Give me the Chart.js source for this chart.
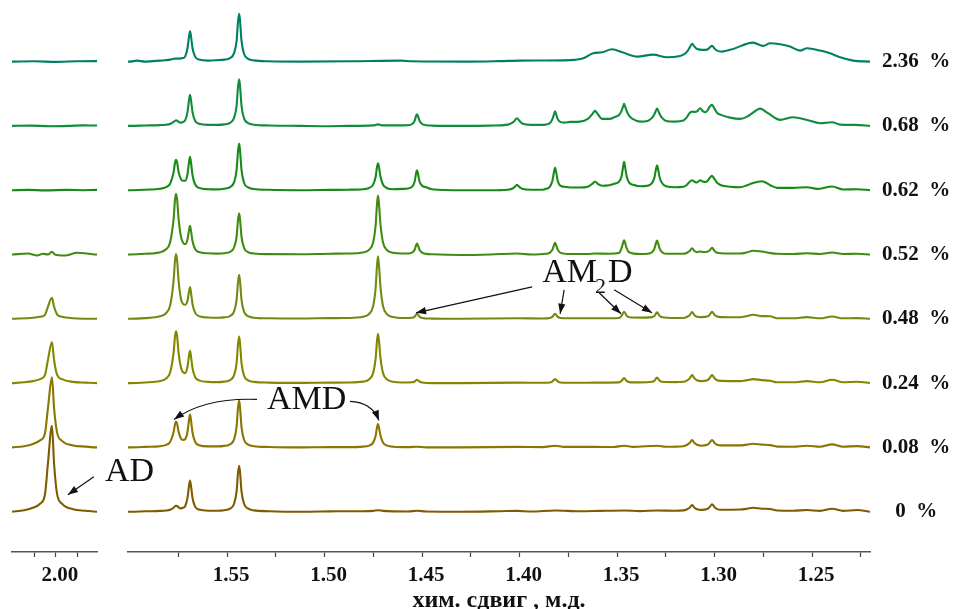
<!DOCTYPE html>
<html>
<head>
<meta charset="utf-8">
<script src="https://cdn.jsdelivr.net/npm/chart.js@4.4.1/dist/chart.umd.min.js"></script>
<style>
  html, body { margin: 0; padding: 0; background: #fff; }
  #wrap { position: relative; width: 962px; height: 609px; }
  #wrap canvas { position: absolute; top: 0; left: 0; }
</style>
</head>
<body>
<div id="wrap">
  <canvas id="main" width="962" height="609"></canvas>
  <canvas id="side" width="110" height="609"></canvas>
</div>
<script>
// концентрации снизу вверх
const concLabels = ['0  %', '0.08  %', '0.24  %', '0.48  %', '0.52  %', '0.62  %', '0.68  %', '2.36  %'];
const lineColors = ['#805c00', '#8a7600', '#828700', '#6e8c14', '#408c10', '#188a18', '#108c3c', '#008062'];
const step = 64.3; // сдвиг между спектрами

// [хим. сдвиг, интенсивность]
const spec0 = [
  [2.0207,0],[2.0150,1.5],[2.0108,4],[2.0075,8],[2.0052,17],[2.0038,48],[2.0019,86],[2.0009,48],[1.9995,18],[1.9972,8],[1.9920,2.5],[1.9860,1],[1.9807,0],
  [1.5997,0],[1.5921,0.4],[1.5844,0.8],[1.5813,1.2],[1.5792,2],[1.5774,4],[1.5767,5.5],[1.5762,6],[1.5756,5.7],[1.5749,4.3],[1.5736,3.3],[1.5726,3.9],[1.5715,5.5],[1.5703,13.8],[1.5695,26],[1.5690,31.2],[1.5685,25.9],[1.5677,13.7],[1.5664,5.1],[1.5644,2.1],[1.5597,1],[1.5546,1],
  [1.5515,1.5],[1.5485,3],[1.5464,8],[1.5451,20.5],[1.5444,38.5],[1.5438,46],[1.5433,38.5],[1.5426,20.5],[1.5413,8],[1.5392,3],[1.5362,1.3],[1.5285,0.5],
  [1.5126,0],[1.4972,0.3],[1.4879,0.5],[1.4803,0.5],[1.4751,0.8],[1.4726,1.5],[1.4700,0.8],[1.4649,0.3],[1.4572,0.2],[1.4526,1],[1.4479,0.2],
  [1.4300,0],[1.4100,0.5],[1.4013,0.8],[1.3940,0.2],[1.3818,1.2],[1.3690,0.4],[1.3587,0.8],[1.3464,1.2],[1.3382,0.6],[1.3295,1.2],[1.3203,1],
  [1.3160,1.3],[1.3141,2.5],[1.3128,4],[1.3115,6.7],[1.3103,4],[1.3090,2.5],[1.3069,1.8],[1.3038,2.6],[1.3026,4.5],[1.3013,7.3],[1.3000,4.5],[1.2987,2.6],[1.2967,2],
  [1.2869,2.2],[1.2833,3],[1.2803,4],[1.2758,3],[1.2715,2.7],[1.2679,1.2],[1.2597,1],[1.2526,1.7],[1.2459,0.8],[1.2397,3],[1.2341,0.8],[1.2269,1.7],[1.2203,0]
];
const spec008 = [
  [2.0207,0],[2.0150,1.2],[2.0108,3.5],[2.0075,7],[2.0052,14],[2.0038,39],[2.0019,70],[2.0009,39],[1.9995,15],[1.9972,6.5],[1.9920,2],[1.9860,0.8],[1.9807,0],
  [1.5997,0],[1.5921,0.5],[1.5844,1.2],[1.5813,2.5],[1.5792,5.5],[1.5774,15.3],[1.5767,23.2],[1.5762,25.8],[1.5756,23.4],[1.5749,15.9],[1.5736,8.6],[1.5726,7.5],[1.5715,8.2],[1.5703,15.4],[1.5695,27.6],[1.5690,32.8],[1.5685,27.3],[1.5677,14.6],[1.5664,5.7],[1.5644,2.2],[1.5597,1],[1.5546,1],
  [1.5515,1.5],[1.5485,3],[1.5464,8],[1.5451,21],[1.5444,39.5],[1.5438,47],[1.5433,39],[1.5426,20.5],[1.5413,7.6],[1.5392,2.8],[1.5362,1.2],[1.5285,0.4],
  [1.5126,0],[1.4972,0.3],
  [1.4879,0.3],[1.4803,0.8],[1.4772,1.8],[1.4751,4.8],[1.4738,11.7],[1.4731,20],[1.4726,23.3],[1.4721,20],[1.4713,11.7],[1.4700,4.7],[1.4679,1.8],[1.4649,0.7],[1.4572,0.3],
  [1.4526,0.7],[1.4479,0],
  [1.4300,0],[1.4013,0.5],[1.3880,0.3],[1.3818,1.7],[1.3772,0.5],[1.3613,0.5],[1.3520,0.4],[1.3464,1.7],[1.3418,0.5],[1.3295,1.7],[1.3249,0.7],
  [1.3160,1.2],[1.3141,2.6],[1.3128,4.3],[1.3115,7.3],[1.3103,4.3],[1.3090,2.6],[1.3069,1.7],[1.3038,2.6],[1.3026,4.5],[1.3013,7.3],[1.3000,4.5],[1.2987,2.6],[1.2967,2],
  [1.2869,2],[1.2833,2.8],[1.2803,3.7],[1.2758,2.8],[1.2715,2.3],[1.2679,0.8],[1.2597,0.7],[1.2526,1.7],[1.2459,0.7],[1.2397,3],[1.2341,0.7],[1.2269,1.3],[1.2203,0]
];
const spec024 = [
  [2.0207,0],[2.0150,0.8],[2.0108,2],[2.0075,4],[2.0052,8],[2.0038,23],[2.0019,41],[2.0009,23],[1.9995,8.5],[1.9972,4],[1.9920,1.2],[1.9860,0.5],[1.9807,0],
  [1.5997,0],[1.5921,0.6],[1.5844,2],[1.5813,4.5],[1.5792,10.6],[1.5774,30.7],[1.5767,46.6],[1.5762,51.8],[1.5756,46.8],[1.5749,31.2],[1.5736,15.3],[1.5726,10.8],[1.5715,10],[1.5703,16.4],[1.5695,27.5],[1.5690,32.2],[1.5685,26.8],[1.5677,14.7],[1.5664,6.1],[1.5644,2.7],[1.5597,1.2],[1.5546,1],
  [1.5515,1.5],[1.5485,3],[1.5464,8],[1.5451,20.3],[1.5444,38.7],[1.5438,46.6],[1.5433,38.7],[1.5426,20.3],[1.5413,7.5],[1.5392,2.8],[1.5362,1.2],[1.5285,0.5],
  [1.5126,0.2],[1.4972,0.5],
  [1.4879,0.6],[1.4803,1.5],[1.4772,3.7],[1.4751,10],[1.4738,24.7],[1.4731,42.4],[1.4726,49.3],[1.4721,42.4],[1.4713,24.7],[1.4700,9.9],[1.4679,3.5],[1.4649,1.4],[1.4603,0.6],
  [1.4551,0.8],[1.4538,1.6],[1.4526,3.3],[1.4513,1.6],[1.4500,0.6],[1.4449,0],
  [1.4300,0],[1.4013,0.5],[1.3880,0.3],[1.3844,0.6],[1.3831,1.8],[1.3818,4],[1.3805,1.8],[1.3792,0.6],[1.3690,0.3],[1.3613,0.5],[1.3490,0.7],[1.3477,2.2],[1.3464,5],[1.3451,2.2],[1.3438,1],[1.3382,0.7],[1.3321,1.3],[1.3308,2.5],[1.3295,5.5],[1.3282,2.5],[1.3269,1.3],[1.3203,1],
  [1.3160,1.3],[1.3141,2.8],[1.3128,4.7],[1.3115,8],[1.3103,4.7],[1.3090,2.8],[1.3069,2],[1.3038,2.8],[1.3026,4.8],[1.3013,8],[1.3000,4.8],[1.2987,2.8],[1.2967,2.2],
  [1.2869,2],[1.2833,3],[1.2803,4],[1.2758,3],[1.2715,2.3],[1.2679,0.8],[1.2597,0.8],[1.2526,2],[1.2459,0.8],[1.2397,3.3],[1.2341,0.8],[1.2269,1.3],[1.2203,0]
];
const spec048 = [
  [2.0207,0],[2.0108,1],[2.0075,2],[2.0052,4],[2.0038,12],[2.0019,21],[2.0009,12],[1.9995,4.5],[1.9972,2],[1.9920,0.6],[1.9807,0],
  [1.5997,0],[1.5921,0.7],[1.5844,2.5],[1.5813,5.6],[1.5792,13.2],[1.5774,38.4],[1.5767,58.3],[1.5762,64.8],[1.5756,58.5],[1.5749,38.9],[1.5736,19.5],[1.5726,15],[1.5715,14],[1.5703,18],[1.5695,27.3],[1.5690,31.8],[1.5685,26.5],[1.5677,14.6],[1.5664,6.2],[1.5644,2.7],[1.5597,1.3],[1.5546,1],
  [1.5515,1.4],[1.5485,2.8],[1.5464,7.4],[1.5451,19.2],[1.5444,36.5],[1.5438,44],[1.5433,36.5],[1.5426,19.2],[1.5413,7.1],[1.5392,2.6],[1.5362,1.1],[1.5285,0.5],
  [1.5126,0.3],[1.4972,0.7],
  [1.4879,0.8],[1.4803,2],[1.4772,4.8],[1.4751,12.7],[1.4738,31.2],[1.4731,53.7],[1.4726,62.4],[1.4721,53.7],[1.4713,31.2],[1.4700,12.5],[1.4679,4.5],[1.4649,1.8],[1.4603,0.8],
  [1.4551,1],[1.4538,2.2],[1.4526,5],[1.4513,2.2],[1.4500,0.8],[1.4449,0.2],
  [1.4300,0],[1.4013,0.5],[1.3880,0.3],[1.3844,0.8],[1.3831,2.2],[1.3818,5],[1.3805,2.2],[1.3792,0.8],[1.3690,0.5],[1.3613,0.5],[1.3490,0.8],[1.3477,3],[1.3464,7],[1.3451,3],[1.3438,1.5],[1.3382,1.2],[1.3321,1.7],[1.3308,3],[1.3295,6.5],[1.3282,3],[1.3269,1.5],[1.3203,0.8],
  [1.3160,0.8],[1.3141,2],[1.3128,3.5],[1.3115,6.7],[1.3103,3.5],[1.3090,2],[1.3069,1.7],[1.3038,2.2],[1.3026,3.8],[1.3013,7],[1.3000,3.8],[1.2987,2.2],[1.2967,1.7],
  [1.2869,1.5],[1.2833,2.8],[1.2803,4],[1.2758,2.7],[1.2715,2.5],[1.2679,0.6],[1.2597,0.5],[1.2526,1.7],[1.2459,0.5],[1.2397,2.3],[1.2341,0.5],[1.2269,0.7],[1.2203,0]
];
const spec052 = [
  [2.0207,0],[2.0132,1],[2.0089,-1],[2.0061,0.7],[2.0038,0],[2.0019,2.7],[2.0005,0],[1.9958,-1],[1.9901,1.7],[1.9854,1],[1.9807,0],
  [1.5997,0],[1.5921,0.7],[1.5844,2.3],[1.5813,5.2],[1.5792,12.3],[1.5774,35.9],[1.5767,54.6],[1.5762,60.7],[1.5756,54.8],[1.5749,36.4],[1.5736,17.5],[1.5726,12],[1.5715,10.2],[1.5703,15.1],[1.5695,24.6],[1.5690,28.6],[1.5685,23.9],[1.5677,13.2],[1.5664,5.6],[1.5644,2.5],[1.5597,1.2],[1.5546,0.9],
  [1.5515,1.3],[1.5485,2.6],[1.5464,7],[1.5451,18],[1.5444,34.2],[1.5438,41.2],[1.5433,34.2],[1.5426,18],[1.5413,6.7],[1.5392,2.4],[1.5362,1],[1.5285,0.4],
  [1.5126,0.3],[1.4972,0.8],
  [1.4879,1],[1.4803,2],[1.4772,4.6],[1.4751,12],[1.4738,29.5],[1.4731,50.7],[1.4726,59],[1.4721,50.7],[1.4713,29.5],[1.4700,11.8],[1.4679,4.2],[1.4649,1.8],[1.4603,1],
  [1.4572,1],[1.4551,2],[1.4538,4.8],[1.4531,9.1],[1.4526,11],[1.4521,9.1],[1.4513,4.8],[1.4500,1.8],[1.4479,0.6],[1.4449,0.2],
  [1.4300,-0.5],[1.4150,0],[1.4013,1],[1.3940,0],[1.3864,0.7],[1.3844,1.9],[1.3831,5.1],[1.3823,9.7],[1.3818,11.7],[1.3813,9.7],[1.3805,5.1],[1.3792,1.9],[1.3741,0.5],[1.3650,0.5],[1.3613,1],[1.3540,0.7],[1.3490,1.5],[1.3477,6.3],[1.3469,11.9],[1.3464,14.3],[1.3459,11.9],[1.3451,6.3],[1.3438,2.3],[1.3382,0.5],[1.3344,0.8],[1.3321,2.2],[1.3308,6.2],[1.3300,11.6],[1.3295,14],[1.3290,11.6],[1.3282,6.2],[1.3269,2.3],[1.3249,0.8],
  [1.3160,0.7],[1.3141,1.8],[1.3128,3.5],[1.3115,6.3],[1.3103,3.5],[1.3090,2.3],[1.3074,3],[1.3058,2.5],[1.3038,2.8],[1.3026,4],[1.3013,6.7],[1.3000,3.5],[1.2987,1.8],[1.2967,1.3],
  [1.2869,1],[1.2833,2.2],[1.2803,3.7],[1.2758,3],[1.2715,1.5],[1.2679,0.7],[1.2597,0.5],[1.2526,1.3],[1.2459,0.5],[1.2397,2],[1.2341,0.5],[1.2269,0.7],[1.2203,0]
];
const spec062 = [
  [2.0207,0],[2.0130,0.3],[2.0050,-0.2],[1.9950,0.3],[1.9870,0],[1.9807,0.3],
  [1.5997,0],[1.5921,0.5],[1.5844,1.4],[1.5813,3],[1.5792,6.5],[1.5774,18.1],[1.5767,27.4],[1.5762,30.5],[1.5756,27.6],[1.5749,18.6],[1.5736,11],[1.5726,9.5],[1.5715,9.5],[1.5703,16],[1.5695,28.1],[1.5690,33.3],[1.5685,27.7],[1.5677,15],[1.5664,5.9],[1.5644,2.3],[1.5597,1],[1.5546,0.8],
  [1.5515,1.5],[1.5485,3],[1.5464,8],[1.5451,20.3],[1.5444,38.7],[1.5438,46.6],[1.5433,38.7],[1.5426,20.3],[1.5413,7.5],[1.5392,2.8],[1.5362,1.2],[1.5285,0.4],
  [1.5126,0],[1.4972,0.3],
  [1.4879,0.5],[1.4803,1],[1.4772,2.2],[1.4751,5.6],[1.4738,13.5],[1.4731,23.2],[1.4726,27],[1.4721,23.2],[1.4713,13.5],[1.4700,5.4],[1.4679,2],[1.4649,1],[1.4603,1.3],
  [1.4572,1.8],[1.4551,3.6],[1.4538,8.7],[1.4531,16.6],[1.4526,20],[1.4521,16.6],[1.4513,8.7],[1.4500,4.5],[1.4479,3],[1.4449,1],
  [1.4300,0],[1.4150,0],[1.4060,0.5],[1.4039,1.5],[1.4026,3],[1.4013,5.3],[1.4000,3],[1.3987,1.5],[1.3940,0.5],[1.3880,0.5],[1.3864,1.4],[1.3844,3.6],[1.3831,10],[1.3823,18.8],[1.3818,22.7],[1.3813,18.8],[1.3805,10],[1.3792,4.5],[1.3772,3.5],[1.3741,2.7],[1.3690,2.7],[1.3650,3.5],[1.3626,6.5],[1.3613,8.7],[1.3600,6.5],[1.3577,4.5],[1.3540,5],[1.3510,6.7],[1.3490,8.5],[1.3477,14],[1.3469,23.5],[1.3464,28.3],[1.3459,23.5],[1.3451,14],[1.3438,7.5],[1.3418,5.5],[1.3382,4],[1.3344,4.5],[1.3321,7],[1.3308,13],[1.3300,21.5],[1.3295,25],[1.3290,21.5],[1.3282,13],[1.3269,7],[1.3249,4],[1.3203,3],
  [1.3160,3.5],[1.3141,5.5],[1.3128,8.5],[1.3115,10],[1.3103,8.5],[1.3090,7.7],[1.3074,10],[1.3059,8.5],[1.3046,8.3],[1.3038,9],[1.3026,12],[1.3013,14.3],[1.3000,11],[1.2987,7.5],[1.2967,5],
  [1.2921,3.5],[1.2869,3],[1.2833,5],[1.2803,7.3],[1.2758,9],[1.2715,5],[1.2679,2.3],[1.2597,2.3],[1.2526,3],[1.2474,1.3],[1.2397,3.7],[1.2341,0.7],[1.2269,1],[1.2203,0]
];
const spec068 = [
  [2.0207,0],[2.0120,0.3],[2.0030,-0.3],[1.9940,0],[1.9870,0.5],[1.9807,0.4],
  [1.5997,0],[1.5921,0.4],[1.5844,0.8],[1.5813,1.2],[1.5792,2],[1.5774,4],[1.5767,5],[1.5762,5.5],[1.5756,5.2],[1.5749,4],[1.5736,3.3],[1.5726,3.9],[1.5715,5.5],[1.5703,13.8],[1.5695,26],[1.5690,31.2],[1.5685,25.9],[1.5677,13.7],[1.5664,5.1],[1.5644,2.1],[1.5597,1],[1.5546,1],
  [1.5515,1.5],[1.5485,3],[1.5464,8],[1.5451,20.3],[1.5444,38.7],[1.5438,46.6],[1.5433,38.7],[1.5426,20.3],[1.5413,7.5],[1.5392,2.8],[1.5362,1.2],[1.5285,0.4],
  [1.5126,0],[1.4972,-0.3],[1.4879,0],[1.4751,0.5],[1.4726,1.5],[1.4700,0.5],[1.4649,0.5],
  [1.4572,0.7],[1.4551,1.9],[1.4538,5.1],[1.4531,9.7],[1.4526,11.7],[1.4521,9.7],[1.4513,5.1],[1.4500,1.9],[1.4479,0.7],[1.4449,0.3],
  [1.4300,0],[1.4150,0.3],[1.4060,1.3],[1.4039,3],[1.4026,5],[1.4013,7.7],[1.4000,5],[1.3987,2.5],[1.3940,1],[1.3880,1],[1.3864,1.5],[1.3844,3],[1.3831,7],[1.3823,12],[1.3818,14.5],[1.3813,12],[1.3805,7],[1.3792,4],[1.3772,3.3],[1.3741,4],[1.3690,4.3],[1.3650,7],[1.3626,12],[1.3613,15],[1.3600,12],[1.3577,7],[1.3540,7],[1.3510,9],[1.3490,11],[1.3477,15],[1.3469,19.5],[1.3464,22],[1.3459,19.5],[1.3451,15],[1.3438,10],[1.3418,6.7],[1.3382,4.3],[1.3344,5],[1.3321,8],[1.3308,12],[1.3300,15.5],[1.3295,17.3],[1.3290,15.5],[1.3282,12],[1.3269,8],[1.3249,5],[1.3203,4.3],
  [1.3160,5.3],[1.3141,9],[1.3128,13],[1.3115,14.3],[1.3103,14],[1.3090,14.5],[1.3074,17.7],[1.3059,14.5],[1.3046,13.7],[1.3038,15],[1.3026,19],[1.3013,21],[1.3000,17],[1.2987,13],[1.2967,11],
  [1.2921,8.3],[1.2869,7],[1.2833,9.3],[1.2803,13.3],[1.2767,17.3],[1.2726,12.7],[1.2664,6],[1.2597,8.7],[1.2526,6],[1.2459,2.7],[1.2397,3.7],[1.2356,1.3],[1.2279,1],[1.2203,0]
];
const spec236 = [
  [2.0207,0],[2.0100,0.3],[2.0000,-0.3],[1.9900,0.4],[1.9807,0.5],
  [1.5997,0],[1.5962,1],[1.5921,0],[1.5844,1],[1.5792,2],[1.5774,2.8],[1.5762,3],[1.5749,3],[1.5726,3.5],[1.5715,5],[1.5703,13.3],[1.5695,25.3],[1.5690,30.4],[1.5685,25.3],[1.5677,13.3],[1.5664,5],[1.5644,2],[1.5597,1],[1.5546,1.5],
  [1.5515,2],[1.5485,3.5],[1.5464,8.5],[1.5451,21],[1.5444,39.8],[1.5438,47.9],[1.5433,39.8],[1.5426,20.9],[1.5413,7.8],[1.5392,2.8],[1.5362,1.2],[1.5285,0.3],
  [1.5126,0],[1.4869,0.3],[1.4603,1],[1.4554,0.3],[1.4254,0],[1.4100,0.5],[1.3997,1],[1.3741,1.5],[1.3674,3.3],[1.3623,8.3],[1.3577,9.3],[1.3526,12.3],[1.3469,9],[1.3397,5],[1.3315,7],[1.3244,4.3],[1.3177,5.7],
  [1.3160,7],[1.3141,10],[1.3128,14],[1.3115,17.7],[1.3103,15],[1.3090,12.5],[1.3059,11.7],[1.3038,12],[1.3026,14],[1.3013,15.7],[1.3000,13],[1.2987,11],[1.2962,10],
  [1.2905,12.7],[1.2803,19],[1.2751,15.7],[1.2715,18.3],[1.2664,17.3],[1.2613,15],[1.2562,11],[1.2526,13.3],[1.2459,11],[1.2408,8.3],[1.2356,4.3],[1.2290,1],[1.2203,0]
];
const spectra = [spec0, spec008, spec024, spec048, spec052, spec062, spec068, spec236];

// деления оси: правая часть и вставка у 2.00 м.д.
const ticksMain = [1.575, 1.55, 1.525, 1.50, 1.475, 1.45, 1.425, 1.40, 1.375, 1.35, 1.325, 1.30, 1.275, 1.25, 1.225];
const tickTextMain = ['', '1.55', '', '1.50', '', '1.45', '', '1.40', '', '1.35', '', '1.30', '', '1.25', ''];
const ticksSide = [2.01, 2.00, 1.99];
const tickTextSide = ['', '2.00', ''];

Chart.defaults.font.family = '"Liberation Serif", "Times New Roman", serif';
Chart.defaults.color = '#111';

const tickFont = { family: '"Liberation Serif", serif', size: 21, weight: 'bold' };

function makeDatasets() {
  return spectra.map((s, i) => ({
    label: concLabels[i],
    data: s.map(p => ({ x: p[0], y: p[1] + i * step })),
    borderColor: lineColors[i],
    borderWidth: 2.1,
    pointRadius: 0,
    cubicInterpolationMode: 'monotone',
    fill: false
  }));
}

function xAxis(min, max, values, texts, withTitle) {
  return {
    type: 'linear',
    reverse: true,
    min: min,
    max: max,
    afterBuildTicks: s => { s.ticks = values.map(v => ({ value: v })); },
    afterFit: s => { s.height = 57; s.paddingLeft = 0; s.paddingRight = 0; },
    ticks: {
      autoSkip: false,
      maxRotation: 0,
      padding: 6,
      labelOffset: 4,
      font: tickFont,
      color: '#111',
      callback: (v, i) => texts[i]
    },
    grid: {
      drawOnChartArea: false,
      drawTicks: true,
      tickLength: 5,
      tickColor: '#444',
      tickWidth: 1.2
    },
    border: { display: true, color: '#555', width: 1.5 },
    title: {
      display: withTitle,
      text: 'хим. сдвиг , м.д.',
      font: { family: '"Liberation Serif", serif', size: 24, weight: 'bold', lineHeight: 1 },
      color: '#111',
      padding: { top: 0, bottom: -4 }
    }
  };
}

const yRange = { min: -40.3, max: 511.7 };

const sideChart = new Chart(document.getElementById('side'), {
  type: 'line',
  data: { datasets: makeDatasets() },
  options: {
    responsive: false,
    devicePixelRatio: 1,
    animation: false,
    events: [],
    layout: { padding: { left: 12, right: 13, top: 0, bottom: 0 } },
    plugins: { legend: { display: false }, tooltip: { enabled: false } },
    scales: {
      x: xAxis(1.9807, 2.0207, ticksSide, tickTextSide, false),
      y: { type: 'linear', display: false, min: yRange.min, max: yRange.max }
    }
  }
});

// стрелка с залитым наконечником, при наличии (cx, cy) — дуга
function arrow(ctx, x0, y0, x1, y1, cx, cy) {
  let ax = x0, ay = y0;
  ctx.beginPath();
  ctx.moveTo(x0, y0);
  if (cx !== undefined) {
    ctx.quadraticCurveTo(cx, cy, x1, y1);
    ax = cx; ay = cy;
  } else {
    ctx.lineTo(x1, y1);
  }
  ctx.stroke();
  const a = Math.atan2(y1 - ay, x1 - ax);
  const len = 10, half = 3.6;
  ctx.beginPath();
  ctx.moveTo(x1, y1);
  ctx.lineTo(x1 - len * Math.cos(a) + half * Math.sin(a), y1 - len * Math.sin(a) - half * Math.cos(a));
  ctx.lineTo(x1 - len * Math.cos(a) - half * Math.sin(a), y1 - len * Math.sin(a) + half * Math.cos(a));
  ctx.closePath();
  ctx.fill();
}

const notesPlugin = {
  id: 'notes',
  afterDatasetsDraw(chart) {
    const { ctx } = chart;
    const xs = chart.scales.x, ys = chart.scales.y;
    const at = (d, t, h) => [xs.getPixelForValue(d), ys.getPixelForValue(t * step + h)];
    ctx.save();
    ctx.fillStyle = '#111';
    ctx.strokeStyle = '#111';
    ctx.lineWidth = 1.2;
    ctx.textBaseline = 'alphabetic';
    ctx.textAlign = 'left';
    const big = '34px "Liberation Serif", serif';

    // AD — пик у 2.00 м.д.
    const ad = [sideChart.scales.x.getPixelForValue(1.9944), ys.getPixelForValue(17)];
    arrow(ctx, ad[0] + 26, ad[1] - 18, ad[0], ad[1]);
    ctx.font = big;
    ctx.fillText('AD', ad[0] + 37, ad[1] - 14);

    // AMD — два пика
    const m1 = at(1.5772, 1, 28);
    const m2 = at(1.4721, 1, 27);
    arrow(ctx, m1[0] + 83, m1[1] - 20, m1[0], m1[1], m1[0] + 31, m1[1] - 22);
    arrow(ctx, m2[0] - 29, m2[1] - 19, m2[0], m2[1], m2[0] - 7, m2[1] - 18);
    ctx.fillText('AMD', m1[0] + 93, m1[1] - 10);

    // AM2D — четыре пика
    const e = at(1.4531, 3, 6);
    const g = at(1.3792, 3, 5);
    const k = at(1.3480, 3, 5);
    const j = at(1.3321, 3, 6);
    arrow(ctx, g[0] - 28, g[1] - 27, e[0], e[1]);
    arrow(ctx, g[0] + 4, g[1] - 24, g[0], g[1]);
    arrow(ctx, g[0] + 39, g[1] - 21, k[0], k[1]);
    arrow(ctx, g[0] + 54, g[1] - 24, j[0], j[1]);
    const tx = g[0] - 18, ty = g[1] - 32;
    ctx.font = big;
    ctx.fillText('AM', tx, ty);
    const wAM = ctx.measureText('AM').width;
    ctx.font = '22px "Liberation Serif", serif';
    ctx.fillText('2', tx + wAM - 2, ty + 11);
    const w2 = ctx.measureText('2').width;
    ctx.font = big;
    ctx.fillText('D', tx + wAM + w2, ty);
    ctx.restore();
  }
};

new Chart(document.getElementById('main'), {
  type: 'line',
  data: { datasets: makeDatasets() },
  options: {
    responsive: false,
    devicePixelRatio: 1,
    animation: false,
    events: [],
    layout: { padding: { left: 128, right: 0, top: 0, bottom: 0 } },
    plugins: { legend: { display: false }, tooltip: { enabled: false } },
    scales: {
      x: xAxis(1.2203, 1.6008, ticksMain, tickTextMain, true),
      y: {
        type: 'linear',
        position: 'right',
        min: yRange.min,
        max: yRange.max,
        afterBuildTicks: s => { s.ticks = concLabels.map((_, i) => ({ value: i * step })); },
        afterFit: s => { s.width = 92; s.paddingTop = 0; s.paddingBottom = 0; },
        ticks: {
          autoSkip: false,
          crossAlign: 'center',
          padding: 12,
          font: tickFont,
          color: '#111',
          callback: (v, i) => concLabels[i]
        },
        grid: { display: false, drawTicks: false },
        border: { display: false }
      }
    }
  },
  plugins: [notesPlugin]
});
</script>
</body>
</html>
